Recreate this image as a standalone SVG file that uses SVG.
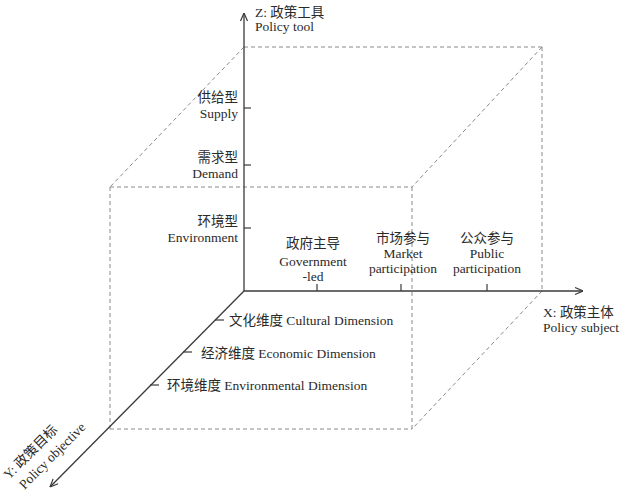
<svg xmlns="http://www.w3.org/2000/svg" width="621" height="495" viewBox="0 0 621 495">
<defs>
<style>
.ax{stroke:#3a3a3a;stroke-width:1.3;fill:none}
.tk{stroke:#3a3a3a;stroke-width:1.2;fill:none}
.ds{stroke:#8a8a8a;stroke-width:1;stroke-dasharray:4,3;fill:none}
text{font-family:"Liberation Serif","Noto Sans CJK SC",serif;font-size:13.5px;fill:#2a2a2a}
.c{text-anchor:middle}
.r{text-anchor:end}
</style>
<marker id="arr" viewBox="0 0 10 10" refX="10" refY="5" markerWidth="10" markerHeight="10" markerUnits="userSpaceOnUse" orient="auto">
<path d="M2,1.5 L10,5 L2,8.5" stroke="#3a3a3a" stroke-width="1.2" fill="none"/>
</marker>
</defs>
<g id="cube">
<line class="ds" x1="244" y1="47" x2="542" y2="47"/>
<line class="ds" x1="542" y1="47" x2="542" y2="291"/>
<line class="ds" x1="244" y1="47" x2="110" y2="187"/>
<line class="ds" x1="542" y1="47" x2="412" y2="187"/>
<line class="ds" x1="542" y1="291" x2="412" y2="429"/>
<line class="ds" x1="110" y1="187" x2="412" y2="187"/>
<line class="ds" x1="110" y1="187" x2="110" y2="429"/>
<line class="ds" x1="412" y1="187" x2="412" y2="429"/>
<line class="ds" x1="110" y1="429" x2="412" y2="429"/>
</g>
<g id="connectors">
<line class="ax" x1="244" y1="291" x2="244" y2="13" marker-end="url(#arr)"/>
<line class="ax" x1="244" y1="291" x2="583" y2="291" marker-end="url(#arr)"/>
<line class="ax" x1="244" y1="291" x2="50" y2="487" marker-end="url(#arr)"/>
</g>
<g id="z-axis">
<text x="255" y="17">Z: 政策工具</text>
<text x="255" y="31">Policy tool</text>
<line class="tk" x1="244" y1="108" x2="251" y2="108"/>
<line class="tk" x1="244" y1="165" x2="251" y2="165"/>
<line class="tk" x1="244" y1="228" x2="251" y2="228"/>
</g>
<g id="z-supply">
<text class="r" x="238" y="102">供给型</text>
<text class="r" x="238" y="118">Supply</text>
</g>
<g id="z-demand">
<text class="r" x="238" y="162">需求型</text>
<text class="r" x="238" y="178">Demand</text>
</g>
<g id="z-environment">
<text class="r" x="238" y="226">环境型</text>
<text class="r" x="238" y="242">Environment</text>
</g>
<g id="x-axis">
<text x="543" y="317">X: 政策主体</text>
<text x="543" y="332">Policy subject</text>
<line class="tk" x1="317" y1="291" x2="317" y2="284"/>
<line class="tk" x1="401" y1="291" x2="401" y2="284"/>
<line class="tk" x1="487" y1="291" x2="487" y2="284"/>
</g>
<g id="x-government">
<text class="c" x="313" y="248">政府主导</text>
<text class="c" x="313" y="266">Government</text>
<text class="c" x="313" y="281">-led</text>
</g>
<g id="x-market">
<text class="c" x="403" y="243">市场参与</text>
<text class="c" x="403" y="258">Market</text>
<text class="c" x="403" y="273">participation</text>
</g>
<g id="x-public">
<text class="c" x="487" y="243">公众参与</text>
<text class="c" x="487" y="258">Public</text>
<text class="c" x="487" y="273">participation</text>
</g>
<g id="y-axis">
<text transform="translate(9,480) rotate(-45)">Y: 政策目标</text>
<text transform="translate(9,480) rotate(-45)" x="4" y="18">Policy objective</text>
<line class="tk" x1="215" y1="320" x2="224" y2="320"/>
<line class="tk" x1="183" y1="352" x2="192" y2="352"/>
<line class="tk" x1="150" y1="385" x2="159" y2="385"/>
</g>
<g id="y-cultural">
<text x="229" y="325">文化维度 Cultural Dimension</text>
</g>
<g id="y-economic">
<text x="201" y="358">经济维度 Economic Dimension</text>
</g>
<g id="y-environmental">
<text x="167" y="390">环境维度 Environmental Dimension</text>
</g>
</svg>
